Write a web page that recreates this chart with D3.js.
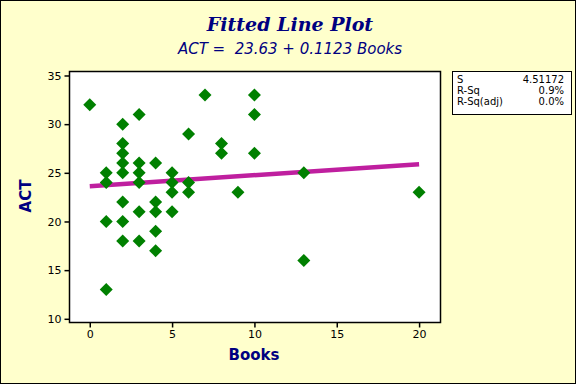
<!DOCTYPE html>
<html><head><meta charset="utf-8">
<script src="https://cdn.jsdelivr.net/npm/d3@7"></script>
<style>body{margin:0;padding:0;background:#fff}svg{display:block}</style>
</head><body>
<script>
const booksValues = [0,1,1,1,1,2,2,2,2,2,2,2,2,3,3,3,3,3,3,4,4,4,4,4,5,5,5,5,6,6,6,7,8,8,9,10,10,10,13,13,20];
const actValues   = [32,25,24,20,13,30,28,27,26,25,22,20,18,31,26,25,24,21,18,26,22,21,19,17,25,24,23,21,29,24,23,33,28,27,23,33,31,27,25,16,23];
const intercept = 23.63, slope = 0.1123;
const xTicks = [0,5,10,15,20];
const yTicks = [10,15,20,25,30,35];
const statLabels = ["S","R-Sq","R-Sq(adj)"];
const statValues = ["4.51172","0.9%","0.0%"];
const fitX = [0,20];

const W=576,H=384;
const svg=d3.select("body").append("svg").attr("width",W).attr("height",H);
svg.append("rect").attr("x",0.5).attr("y",0.5).attr("width",W-1).attr("height",H-1)
  .attr("fill","#FFFFCC").attr("stroke","#000").attr("stroke-width",1);

const L=69.5,R=440.5,T=71.5,B=322.5;
const x=d3.scaleLinear().domain([-1.23,21.3]).range([L,R]);
const y=d3.scaleLinear().domain([9.62,35.41]).range([B,T]);

svg.append("rect").attr("x",L).attr("y",T).attr("width",R-L).attr("height",B-T)
  .attr("fill","#fff").attr("stroke","#000").attr("stroke-width",1.5);

const xAxis=svg.append("g").attr("transform",`translate(0,${B})`)
  .call(d3.axisBottom(x).tickValues(xTicks).tickSize(5).tickPadding(3).tickSizeOuter(0));
const yAxis=svg.append("g").attr("transform",`translate(${L},0)`)
  .call(d3.axisLeft(y).tickValues(yTicks).tickSize(5).tickPadding(3).tickSizeOuter(0));
[xAxis,yAxis].forEach(a=>{
  a.select(".domain").remove();
  a.selectAll("line").attr("stroke","#000").attr("stroke-width",1.5);
  a.selectAll("text").attr("font-family","DejaVu Sans, sans-serif").attr("font-size",11).attr("fill","#000");
});

svg.append("line").attr("x1",x(fitX[0])).attr("x2",x(fitX[1]))
  .attr("y1",y(intercept+slope*fitX[0])).attr("y2",y(intercept+slope*fitX[1]))
  .attr("stroke","#BF1F9F").attr("stroke-width",4.5);

const s=6.5;
svg.append("g").selectAll("path").data(booksValues.map((b,i)=>[b,actValues[i]])).join("path")
  .attr("d",d=>{const cx=x(d[0]),cy=y(d[1]);return `M${cx},${cy-s}L${cx+s},${cy}L${cx},${cy+s}L${cx-s},${cy}Z`;})
  .attr("fill","#008000");

svg.append("text").attr("x",290).attr("y",31).attr("text-anchor","middle")
  .attr("font-family","DejaVu Serif, serif").attr("font-style","italic").attr("font-weight","bold")
  .attr("font-size",19).attr("fill","#000080").text("Fitted Line Plot");
svg.append("text").attr("x",290).attr("y",54).attr("text-anchor","middle")
  .attr("font-family","DejaVu Sans, sans-serif").attr("font-style","italic")
  .attr("font-size",15).attr("fill","#000080").attr("xml:space","preserve").text("ACT =  23.63 + 0.1123 Books");

svg.append("text").attr("x",254).attr("y",360).attr("text-anchor","middle")
  .attr("font-family","DejaVu Sans, sans-serif").attr("font-weight","bold")
  .attr("font-size",15).attr("fill","#000080").text("Books");
svg.append("text").attr("transform","translate(31,196) rotate(-90)").attr("text-anchor","middle")
  .attr("font-family","DejaVu Sans, sans-serif").attr("font-weight","bold")
  .attr("font-size",15).attr("fill","#000080").text("ACT");

svg.append("rect").attr("x",452.5).attr("y",71.5).attr("width",119).attr("height",43)
  .attr("fill","#fff").attr("stroke","#000").attr("stroke-width",1);
const lg=svg.append("g");
statLabels.forEach((l,i)=>{
  lg.append("text").attr("x",457).attr("y",83+i*11).attr("font-family","DejaVu Sans, sans-serif")
    .attr("font-size",10).attr("fill","#000").text(l);
  lg.append("text").attr("x",564).attr("y",83+i*11).attr("text-anchor","end").attr("font-family","DejaVu Sans, sans-serif")
    .attr("font-size",10).attr("fill","#000").text(statValues[i]);
});
</script>
</body></html>
